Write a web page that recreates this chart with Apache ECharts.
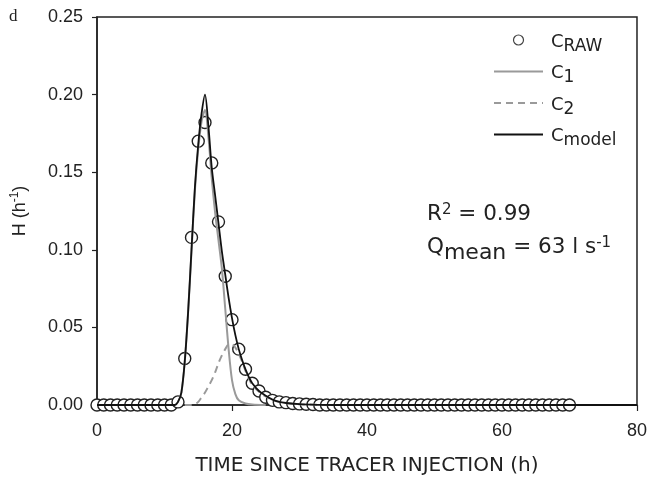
<!DOCTYPE html>
<html>
<head>
<meta charset="utf-8">
<script src="https://cdn.jsdelivr.net/npm/echarts@6/dist/echarts.min.js"></script>
<style>
  html, body { margin: 0; padding: 0; background: #fff; }
  #chart { width: 650px; height: 483px; }
</style>
</head>
<body>
<div id="chart"></div>
<script>
// measured tracer points, one per hour
const rawTime = [0,1,2,3,4,5,6,7,8,9,10,11,12,13,14,15,16,17,18,19,20,21,22,23,24,25,26,27,28,29,30,
  31,32,33,34,35,36,37,38,39,40,41,42,43,44,45,46,47,48,49,50,51,52,53,54,55,56,57,58,59,60,
  61,62,63,64,65,66,67,68,69,70];
const rawH = [0,0,0,0,0,0,0,0,0,0,0,0,0.002,0.030,0.108,0.170,0.182,0.156,0.118,0.083,0.055,
  0.036,0.023,0.014,0.009,0.005,0.003,0.002,0.0015,0.001,0.0007,0.0005,0.0003,0,0,0,0,0,0,0,0,
  0,0,0,0,0,0,0,0,0,0,0,0,0,0,0,0,0,0,0,0,0,0,0,0,0,0,0,0,0,0];

// fitted model curve
const modelTime = [0,11.5,12,12.5,13,13.5,14,14.5,15,15.5,16,16.5,17,17.5,18,18.5,19,19.5,20,20.5,
  21,21.5,22,22.5,23,24,25,26,27,28,30,33,35,80];
const modelH = [0,0,0.002,0.008,0.028,0.060,0.100,0.140,0.168,0.188,0.200,0.180,0.153,0.135,0.117,
  0.099,0.084,0.069,0.056,0.045,0.036,0.029,0.023,0.018,0.014,0.009,0.006,0.0035,0.002,0.0013,
  0.0005,0.0001,0,0];

// first component
const c1Time = [10,11.5,12,12.5,13,13.5,14,14.5,15,15.5,16,16.5,17,17.5,18,18.5,19,19.5,20,20.5,
  21,22,23,25];
const c1H = [0,0,0.002,0.008,0.028,0.060,0.099,0.138,0.165,0.183,0.190,0.173,0.146,0.124,0.106,
  0.088,0.062,0.036,0.016,0.007,0.003,0.001,0.0003,0];

// second component
const c2Time = [13,14,14.5,15,15.5,16,16.5,17,17.5,18,18.5,19,19.5,20,20.5,21,21.5,22,22.5,23,
  24,25,26,27,28,30,33,35];
const c2H = [0,0,0.0005,0.002,0.005,0.008,0.012,0.016,0.021,0.027,0.032,0.036,0.039,0.039,0.037,
  0.033,0.028,0.022,0.017,0.013,0.0085,0.0055,0.0033,0.002,0.0013,0.0005,0.0001,0];

const pair = (xs, ys) => xs.map((x, i) => [x, ys[i]]);

const font = 'Liberation Sans, Arial, sans-serif';
const wide = 'DejaVu Sans, sans-serif';
const ink = '#222';
const grey = '#9a9a9a';

const legendNames = {
  cRAW: '{m|C}{s|RAW}',
  c1: '{m|C}{s|1}',
  c2: '{m|C}{s|2}',
  cmodel: '{m|C}{s|model}'
};
const hideDot = { opacity: 0 };

const chart = echarts.init(document.getElementById('chart'));

const option = {
  backgroundColor: '#fff',
  animation: false,
  textStyle: { fontFamily: font },
  grid: {
    left: 97, right: 11, top: 17, bottom: 78,
    show: true, borderColor: ink, borderWidth: 1.5
  },
  legend: {
    orient: 'vertical',
    left: 488,
    top: 25,
    itemWidth: 49,
    itemHeight: 10,
    itemGap: 6.5,
    data: [
      { name: 'cRAW', icon: 'circle', itemStyle: { color: '#fff', borderColor: '#444', borderWidth: 1.2 } },
      { name: 'c1', itemStyle: hideDot },
      { name: 'c2', itemStyle: hideDot },
      { name: 'cmodel', itemStyle: hideDot }
    ],
    formatter: name => legendNames[name],
    textStyle: {
      color: ink,
      padding: [0, 0, 0, 3],
      rich: {
        m: { fontSize: 18, fontFamily: wide, color: ink, lineHeight: 20, padding: [3, 0, 0, 0], verticalAlign: 'top' },
        s: { fontSize: 17, fontFamily: wide, color: ink, lineHeight: 20, padding: [8, 0, 0, 0], verticalAlign: 'top' }
      }
    }
  },
  xAxis: {
    type: 'value',
    min: 0, max: 80, interval: 20,
    name: 'TIME SINCE TRACER INJECTION (h)',
    nameLocation: 'middle',
    nameGap: 51,
    nameTextStyle: { fontSize: 20, color: ink, fontFamily: wide },
    axisLine: { lineStyle: { color: ink, width: 1.5 } },
    axisTick: { inside: false, length: 6, lineStyle: { color: ink, width: 1.2 } },
    axisLabel: { margin: 17, fontSize: 18, color: ink, fontFamily: font },
    splitLine: { show: false }
  },
  yAxis: {
    type: 'value',
    min: 0, max: 0.25, interval: 0.05,
    name: '{n|H (h}{p|-1}{n|)}',
    nameLocation: 'middle',
    nameRotate: 90,
    nameGap: 68,
    nameTextStyle: {
      rich: {
        n: { fontSize: 18, color: ink, fontFamily: font, lineHeight: 20, verticalAlign: 'bottom' },
        p: { fontSize: 12, color: ink, fontFamily: font, lineHeight: 20, padding: [0, 0, 8, 0], verticalAlign: 'bottom' }
      }
    },
    axisLine: { lineStyle: { color: ink, width: 1.5 } },
    axisTick: { inside: false, length: 5, lineStyle: { color: ink, width: 1.2 } },
    axisLabel: { margin: 14, fontSize: 18, color: ink, fontFamily: font,
      formatter: v => v.toFixed(2) },
    splitLine: { show: false }
  },
  graphic: [
    { type: 'text', left: 9, top: 8,
      style: { text: 'd', fontSize: 17, fontFamily: 'Liberation Serif, serif', fill: ink } },
    { type: 'text', left: 427, top: 203,
      style: {
        text: '{a|R}{b|2}{a| = 0.99}',
        fill: ink,
        rich: {
          a: { fontSize: 21.5, fontFamily: wide, fill: ink, lineHeight: 24, verticalAlign: 'top' },
          b: { fontSize: 15, fontFamily: wide, fill: ink, lineHeight: 10, verticalAlign: 'top' }
        }
      } },
    { type: 'text', left: 427, top: 236,
      style: {
        text: '{a|Q}{c|mean}{a| = 63 l s}{b|-1}',
        fill: ink,
        rich: {
          a: { fontSize: 21.5, fontFamily: wide, fill: ink, lineHeight: 24, verticalAlign: 'top' },
          c: { fontSize: 22, fontFamily: wide, fill: ink, lineHeight: 24, padding: [6, 0, 0, 0], verticalAlign: 'top' },
          b: { fontSize: 15, fontFamily: wide, fill: ink, lineHeight: 10, verticalAlign: 'top' }
        }
      } }
  ],
  series: [
    {
      name: 'cRAW',
      type: 'scatter',
      z: 2,
      symbol: 'circle',
      symbolSize: 12,
      itemStyle: { color: '#fff', borderColor: ink, borderWidth: 1.4, opacity: 1 },
      data: pair(rawTime, rawH)
    },
    {
      name: 'c1',
      type: 'line',
      z: 3,
      symbol: 'none',
      smooth: 0.3,
      lineStyle: { color: grey, width: 2 },
      itemStyle: { color: grey },
      data: pair(c1Time, c1H)
    },
    {
      name: 'c2',
      type: 'line',
      z: 3,
      symbol: 'none',
      smooth: 0.3,
      lineStyle: { color: grey, width: 2, type: [7, 5] },
      itemStyle: { color: grey },
      data: pair(c2Time, c2H)
    },
    {
      name: 'cmodel',
      type: 'line',
      z: 4,
      symbol: 'none',
      smooth: 0.3,
      lineStyle: { color: '#111', width: 1.8 },
      itemStyle: { color: '#111' },
      data: pair(modelTime, modelH)
    }
  ]
};

chart.setOption(option);
</script>
</body>
</html>
